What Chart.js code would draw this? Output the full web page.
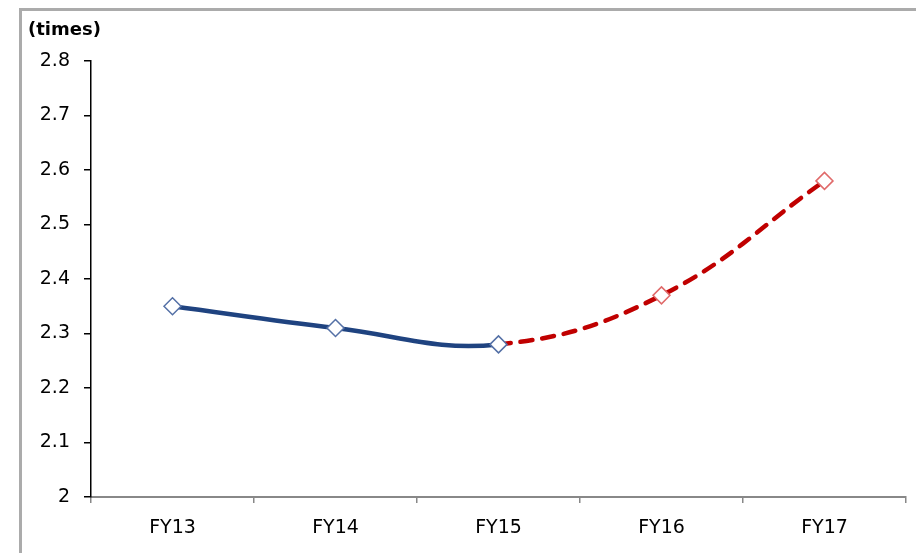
<!DOCTYPE html>
<html>
<head>
<meta charset="utf-8">
<script src="https://cdn.jsdelivr.net/npm/chart.js@4/dist/chart.umd.min.js"></script>
<style>
    html, body { margin: 0; padding: 0; background: #fff; overflow: hidden; }
    canvas { display: block; }
</style>
</head>
<body>
<canvas id="myChart" width="916" height="553"></canvas>
<script>
const years = ['FY13', 'FY14', 'FY15', 'FY16', 'FY17'];
const values = [2.35, 2.31, 2.28, 2.37, 2.58];
// index of the last actual year, later points are estimates
const lastActual = 2;
const yTicks = [2, 2.1, 2.2, 2.3, 2.4, 2.5, 2.6, 2.7, 2.8];

const fontFamily = '"DejaVu Sans", sans-serif';
const blue = '#1F4380';
const red = '#C00000';

// grey frame on the top and left, plus the unit label
const decorations = {
    id: 'decorations',
    beforeDraw(chart) {
        const ctx = chart.ctx;
        ctx.save();
        ctx.fillStyle = '#ababab';
        ctx.fillRect(19, 8, chart.width - 19, 3);
        ctx.fillRect(19, 8, 3, chart.height - 8);
        ctx.restore();
    },
    afterDraw(chart) {
        const ctx = chart.ctx;
        ctx.save();
        ctx.font = 'bold 18px ' + fontFamily;
        ctx.fillStyle = '#000';
        ctx.textBaseline = 'middle';
        ctx.textAlign = 'left';
        ctx.fillText('(times)', 28, 30);
        ctx.restore();
    }
};

const isEstimate = (seg) => seg.p0DataIndex >= lastActual;

const ctx = document.getElementById('myChart').getContext('2d');
const myChart = new Chart(ctx, {
    type: 'line',
    data: {
        labels: years,
        datasets: [{
                label: 'Ratio',
                data: values,
                borderColor: blue,
                borderWidth: 4.5,
                borderCapStyle: 'round',
                tension: 0.4,
                segment: {
                    borderColor: (seg) => isEstimate(seg) ? red : blue,
                    borderDash: (seg) => isEstimate(seg) ? [12, 10] : []
                },
                pointStyle: 'rectRot',
                pointRadius: 8.5,
                pointBackgroundColor: '#fff',
                pointBorderColor: values.map((v, i) => i > lastActual ? '#e06a6a' : '#5470a6'),
                pointBorderWidth: 1.5
            }]
    },
    options: {
        responsive: false,
        animation: false,
        layout: {
            padding: { top: 61, right: 5, left: 0, bottom: 0 }
        },
        plugins: {
            legend: { display: false },
            tooltip: { enabled: false }
        },
        scales: {
            x: {
                offset: true,
                afterFit: (scale) => {
                    scale.height = 56;
                    scale.paddingLeft = 0;
                    scale.paddingRight = 0;
                },
                grid: {
                    offset: true,
                    drawOnChartArea: false,
                    tickLength: 6,
                    color: '#888',
                    lineWidth: 1.5
                },
                border: { color: '#888', width: 2 },
                ticks: {
                    color: '#000',
                    padding: 14,
                    font: { family: fontFamily, size: 19 }
                }
            },
            y: {
                min: 2,
                max: 2.8,
                afterFit: (scale) => { scale.width = 91; },
                afterBuildTicks: (scale) => {
                    scale.ticks = yTicks.map(v => ({ value: v }));
                },
                grid: {
                    drawOnChartArea: false,
                    tickLength: 7,
                    color: '#000',
                    lineWidth: 1.5
                },
                border: { color: '#000', width: 1.5 },
                ticks: {
                    color: '#000',
                    padding: 14,
                    font: { family: fontFamily, size: 19 },
                    callback: (value) => String(Number(value.toFixed(1)))
                }
            }
        }
    },
    plugins: [decorations]
});
</script>
</body>
</html>
